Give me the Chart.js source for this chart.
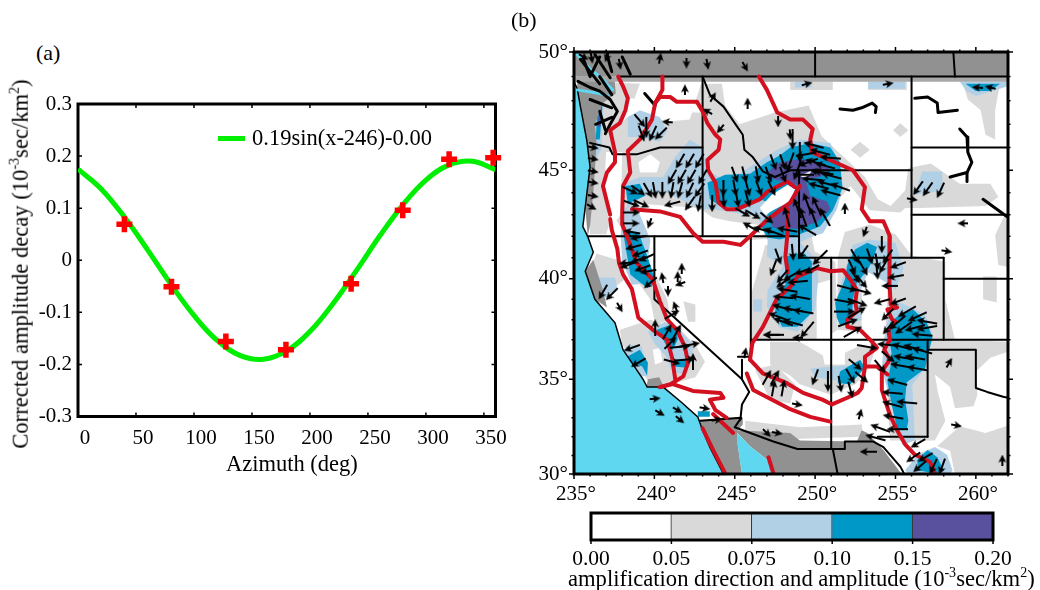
<!DOCTYPE html>
<html>
<head>
<meta charset="utf-8">
<script src="https://cdn.jsdelivr.net/npm/chart.js@4"></script>
<style>
body { margin: 0; background: #fff; width: 1040px; height: 590px; overflow: hidden; position: relative; font-family: "Liberation Serif", serif; color: #000; }
canvas { position: absolute; }
.txt { position: absolute; white-space: nowrap; line-height: 1; }
.txt sup { font-size: .62em; line-height: 0; }
</style>
</head>
<body>
<canvas id="fitChart" width="520" height="400" style="left:0;top:80px"></canvas>
<canvas id="mapChart" width="520" height="480" style="left:520px;top:30px"></canvas>
<canvas id="barChart" width="470" height="70" style="left:570px;top:505px"></canvas>

<div class="txt" style="left:36px;top:42px;font-size:22px">(a)</div>
<div class="txt" style="left:511px;top:9px;font-size:22px">(b)</div>
<div class="txt" style="left:21px;top:264px;font-size:22.6px;transform:translate(-50%,-50%) rotate(-90deg)">Corrected amplitude decay (10<sup>-3</sup>sec/km<sup>2</sup>)</div>
<div style="position:absolute;left:218px;top:136px;width:27px;height:5px;background:#00ee00"></div>
<div class="txt" style="left:252px;top:127px;font-size:22.5px">0.19sin(x-246)-0.00</div>
<div class="txt" style="left:226px;top:453px;font-size:22.5px">Azimuth (deg)</div>
<div class="txt" style="left:568px;top:568px;font-size:22.6px">amplification direction and amplitude (10<sup>-3</sup>sec/km<sup>2</sup>)</div>

<script>
// panel (a), values
const fitAzimuth = [0, 20, 40, 60, 80, 100, 120, 140, 160, 180, 200, 220, 240, 260, 280, 300, 320, 340, 360];
const fitDecay = [0.175, 0.137, 0.083, 0.02, -0.046, -0.106, -0.154, -0.183, -0.19, -0.174, -0.137, -0.083, -0.02, 0.046, 0.106, 0.154, 0.183, 0.19, 0.174];
const obsAzimuth = [40, 80.6, 127.5, 179.3, 235.5, 280, 320, 358];
const obsDecay = [0.069, -0.051, -0.156, -0.172, -0.045, 0.096, 0.194, 0.197];

// panel (b), colour bar
const colorbarTicks = ['0.00', '0.05', '0.075', '0.10', '0.15', '0.20'];
const colorbarColors = ['#ffffff', '#d9d9d9', '#b1d0e6', '#0098c7', '#5a519e'];

// panel (b), polygons are [lon, lat]
const grayPatches = [
  [[236.4,48.8],[239.1,48.7],[238.5,47.6],[239.1,47],[242.2,47.2],[242.9,48.7],[244.2,48.7],[244.4,47.8],[245.3,47],[247.5,47.5],[249.6,47.8],[250.4,46.5],[251.6,45.7],[253.1,44.7],[253.9,43.7],[254.7,43.4],[255.6,44.1],[255.8,45.1],[257.2,45.3],[259,44.4],[260.9,44.4],[261.4,43.8],[260.6,43.4],[256.5,43.3],[255.6,43.3],[255.3,43.1],[253.4,43.2],[252.2,44.3],[250.9,43.2],[249.7,42.3],[250,41.2],[249,40.4],[247.2,40.7],[247.2,41.9],[245.6,41.8],[242.8,43.3],[239.1,43.5],[238.2,42.1],[237.4,43],[237,42.1],[236,42.1],[236,45]],
  [[236.4,41.2],[237.85,40.85],[238.2,40],[236.6,39],[236,40.4]],
  [[237.85,37.5],[239.75,38],[240.65,37.75],[241.6,37.5],[242.55,36.75],[243.15,35.9],[242.55,35.1],[241,34.75],[239.75,34.7],[238.8,36],[238,36.75]],
  [[238.9,40.8],[239.75,40.65],[240.8,39],[241,38],[240.05,37.75],[239.75,39],[239.1,39.7]],
  [[241.8,38.9],[242.55,38.75],[242.55,37.9],[242.1,37.9]],
  [[246.9,41.6],[249.7,41.4],[251.25,40.8],[251.4,37.5],[250.45,37],[249.05,37],[246.05,37],[246,39.2],[246.55,40.65]],
  [[247.2,36.9],[249.05,36.9],[250.95,36],[252.9,36.75],[253.75,36.5],[253.3,35.5],[252.5,34.75],[250.95,34.2],[249.05,34.75],[248.45,35.2],[247.2,35.75]],
  [[246.25,35.5],[247.5,35.75],[248.75,34.75],[248.45,33.75],[247.2,33.95]],
  [[251.4,41],[251.85,42.2],[253.4,42.55],[255,42.1],[256,41.1],[258.1,40.8],[258.1,39],[258.7,37],[262,36.9],[262,36.4],[260.9,36.1],[260,35.4],[260.1,34.2],[259.85,33.6],[258.7,33.5],[258.4,34.6],[257.45,35.25],[257.65,34.3],[258.1,32.85],[257.45,31.8],[254.65,31.8],[254.35,36.5],[254.35,37.25],[251.4,37.5]],
  [[257.6,31.5],[259,32.55],[260.6,32.2],[262,32.6],[262,30],[258.7,30],[258.4,31.25]],
  [[261.2,42.05],[261.8,43],[262,42.5],[262,40.55],[261.4,40.65]],
  [[260.45,40.1],[261.3,40.1],[261.3,38.85],[260.45,39]],
  [[259.2,48.7],[261.5,48.7],[261.2,47.6],[261.2,46.35],[260.6,46.55],[260.3,47.6],[259.5,48.05]],
  [[254.85,46.75],[255.3,47.05],[255.8,46.75],[255.3,46.45]],
  [[252.2,45.9],[252.8,46.25],[253.4,45.9],[252.8,45.55]],
  [[248.45,48.8],[251.1,48.8],[251.1,48.45],[248.45,48.45]],
  [[253.3,48.8],[255.7,48.8],[255.7,48.45],[253.3,48.45]],
  [[245.65,32.85],[249.05,32.5],[252.9,32.65],[253,32],[245.65,31.8]]
];
const whitePatches = [
  [[239,45.35],[239.75,45.7],[240.35,45.35],[240.15,44.9],[239.1,44.9]],
  [[237,45.8],[238,45.8],[237.9,43],[237.2,42.3],[236.9,44.5]],
  [[237.9,47],[238.3,48.1],[240.35,48.05],[242.85,47.8],[243,47.5],[241.4,47.5],[240.5,47.05],[239.1,47.6],[238.3,47.3]],
  [[238.7,43.25],[241.6,42.8],[242.85,43],[244.7,42.7],[246.35,42.55],[247.2,42.2],[245.6,41.8],[242.85,42],[238.7,42]],
  [[239.9,36.5],[240.35,36.6],[240.5,35.9],[240.05,35.75]],
  [[250.1,39.75],[250.95,39.95],[250.95,37.1],[250.1,37]],
  [[250.3,36.85],[251.85,36.85],[251.85,35.75],[250.6,35.75]],
  [[252.9,40.2],[254,40.6],[254.55,39.95],[254.35,37.25],[253.7,36.75],[252.9,37.5]]
];
const bluePatches = [
  [[236.4,48.05],[236.85,48.05],[236.7,45.9],[236.35,45.5],[236.2,45.9]],
  [[238.35,47.3],[239.1,47.6],[240.35,47.3],[240.8,46.7],[240.35,46.25],[239.1,46.45],[238.35,46.45]],
  [[238.2,44.45],[239.1,44.7],[240.55,44.7],[241.3,45.6],[242.2,46.35],[243,46],[243.3,45],[244.5,44.5],[246.4,45.35],[247.65,45.9],[249.05,46.35],[250.95,46.2],[251.45,45.35],[251.75,44.3],[251.35,43.25],[250.5,42.15],[249.7,41.95],[248.45,41.5],[247,41.85],[246.4,42.9],[244.9,43.1],[243.65,43.25],[242.85,43.25],[240.8,44],[239.3,43.85],[238.3,43.25]],
  [[238.05,43.4],[239.1,43],[239.75,41.85],[239.6,40.85],[240.05,39.8],[238.6,39.7],[238,40.85],[237.9,42.05]],
  [[239.6,37.4],[240.65,37.9],[241.6,37.5],[242.35,36.75],[242.4,36],[241.9,35.25],[241.1,35.4],[240.65,36.25],[240.05,36.75]],
  [[238.05,36.5],[238.5,36.75],[239.2,36.65],[239.55,35.65],[239.55,35.2],[239.1,35.1],[238.35,36]],
  [[236.45,40.05],[237.55,40.05],[237.7,39.5],[236.8,39],[236.45,39.3]],
  [[246.15,39],[246.7,39],[246.7,38.4],[246.15,38.4]],
  [[247.05,41.85],[248.9,41.85],[250.1,40.9],[250.2,39.95],[250,38.5],[248.9,37.4],[247.8,37.6],[247,38.65],[247.05,39.45],[248,40.6],[247,41.05]],
  [[252,37.75],[251.25,38.75],[251.85,40.4],[252.35,41.6],[253.4,41.85],[255,41.7],[255.5,40.5],[255,39.45],[254.35,39.85],[253.3,40.3],[252.65,39.2],[252.9,38]],
  [[254.55,39],[255.6,38.75],[256.85,38.25],[257.3,37.25],[256.85,35.55],[256.05,34.75],[256.2,31.8],[255.45,31.55],[255.15,32.6],[254.65,33.9],[254.15,35.6],[254.35,37.5],[254.65,38.25]],
  [[249.7,35.55],[252.5,35.75],[252.9,35.4],[252.05,34.85],[250,35.1]],
  [[255.6,30.2],[256.4,31.05],[257.45,31.45],[258.2,31.05],[258.55,30.2],[258.4,30],[255.8,30]],
  [[248.75,48.8],[249.8,48.8],[249.8,48.55],[248.75,48.55]],
  [[253.3,48.8],[255.6,48.8],[255.6,48.5],[253.3,48.5]],
  [[259,48.8],[262,48.8],[262,48.6],[260,48.2],[259.4,48.4]],
  [[256.65,44.95],[257.9,44.95],[257.95,44.1],[256.2,43.9]]
];
const tealPatches = [
  [[243.3,44.45],[244.4,44.8],[245.95,44.85],[247,45.35],[247.8,45.65],[248.45,46],[249.7,46.2],[250.95,46],[251.55,45.35],[251.7,44.2],[251.1,43.2],[250.3,42.45],[249.05,42.1],[247.8,41.85],[247,41.95],[246.6,42.55],[247.5,43.45],[246.55,43.7],[245.35,43.3],[244.1,43.4],[243.45,43.7]],
  [[238.2,44.3],[239.1,44.4],[239.4,43.85],[238.35,43.5]],
  [[238.05,42.2],[239,42.2],[239.6,41],[240.1,39.8],[239.55,39.55],[238.5,40.2]],
  [[240.15,37.5],[241,37.75],[241.4,37.65],[241.45,37],[241.15,36.5],[240.8,36.6],[240.55,37]],
  [[241.15,36],[242.1,36],[241.9,35.6],[241.15,35.65]],
  [[238.3,36.15],[239.1,36.5],[239.6,35.85],[239.55,35.2],[239.25,35.65],[238.6,35.85]],
  [[248.15,41.05],[249.25,41.25],[249.8,40.8],[249.8,39.7],[249.8,38.35],[248.9,37.65],[247.95,37.65],[247.5,38.35],[247.65,39],[248.15,39.7]],
  [[251.35,38.1],[251.25,38.85],[251.85,39.95],[252,40.65],[252.5,41.4],[253.25,41.7],[253.85,41.5],[253.6,40.9],[253.25,40.4],[252.6,39.8],[252.35,39],[252.3,37.85],[251.55,37.75]],
  [[255.1,38.15],[256.1,38.5],[256.95,37.85],[257.3,37.1],[257,36.15],[256.85,35.55],[255.7,34.85],[255.6,33.95],[255.8,32.85],[255.7,32.4],[255.1,32.4],[254.8,33.55],[254.5,34.85],[254.8,36.15],[254.65,36.85],[254.65,37.85]],
  [[251.55,35.4],[252.8,36],[253.1,35.6],[252.2,34.75],[251.4,34.8]],
  [[256.35,30.75],[257,31.3],[257.6,30.9],[258,30.2],[257.6,30],[256.4,30.2]],
  [[242.7,33.35],[243.45,33.35],[243.45,33.05],[242.7,33.05]],
  [[259.35,48.7],[261.5,48.7],[260.9,48.4],[260,48.4]],
  [[236.5,48.05],[236.8,48.05],[236.6,46.35],[236.35,46.35]]
];
const purplePatches = [
  [[247,44.9],[247.8,45.35],[249.05,45.5],[250.3,45.35],[250.95,45.1],[250.3,44.7],[249.4,44.6],[249.7,43.85],[250.75,43.6],[250.95,43.25],[250.1,42.65],[248.9,42.35],[247.4,42.4],[247.1,42.85],[247.8,43.35],[248.6,43.9],[248.9,44.35],[247.4,44.6]],
  [[236.55,47.8],[236.75,47.8],[236.65,46.9],[236.5,46.9]]
];
const centerWhite = [
  [[248.3,44.35],[248.75,44.15],[248.45,43.6],[247.5,43.25],[246.9,43],[246.55,43.3],[247.3,43.9]],
  [[249.05,44.75],[249.8,45],[249.5,44.65]]
];
const landGray = [
  [[235,50],[262,50],[262,49],[235,49]],
  [[235.2,49],[237.5,49],[237.6,48.3],[236.8,47.9],[236.3,47],[236.4,46.2],[236.3,45],[236.2,44],[236,42.5],[235.85,42],[235.7,43.35],[236,45.15],[235.8,46.3],[235.4,47.75],[235.2,48.5]],
  [[236.2,40.9],[236.8,39.45],[237.05,38.6],[236.3,39],[235.7,40.35]],
  [[239.5,34.6],[240.6,34.6],[240.3,35.1],[239.6,35]],
  [[242.85,32.85],[245.5,33],[245.5,32.65],[245.15,32.3],[245.2,31.5],[245.45,30],[244.3,30],[243.45,31.45],[243,32.35]],
  [[245,32.35],[247.3,32.25],[248.45,32.2],[249.05,31.8],[252.6,31.75],[252.9,32.35],[253.25,32.2],[254.25,31.3],[255.3,30.1],[255.55,30],[247.4,30],[247.2,30.65],[245.95,31.5]]
];
const borderStripe = [[235,49],[262,49],[262,48.79],[235,48.79]];
const oceanCoast = [[235,48.8],[235.2,48.5],[235.4,47.75],[235.8,46.3],[236,45.15],[235.7,43.35],[235.55,42.45],[235.85,42],[236.2,41.25],[235.7,40.35],[236.3,39],[237.55,37.85],[238.05,36.5],[239.3,35],[239.55,34.6],[240.55,34.6],[241.7,33.8],[242.7,33.05],[243,32.35],[243.45,31.45],[244.3,30],[235,30]];
const gulfCoast = [[245.45,30],[245.2,31.5],[245.15,32.2],[245.95,31.5],[247.2,30.65],[247.4,30]];
const sound = [[[235.2,49.9],[236,49.3],[236.6,49],[237.4,48.45]],[[235.2,48.45],[236.6,48.3],[237.1,48.2]]];

const borders = [
  [[237.9,49],[262,49]],[[250,50],[250,49]],[[258.6,50],[258.7,49]],
  [[256,49],[256,41]],[[256,46],[262,46]],[[256,43],[262,43]],
  [[249,45],[256,45]],[[249,45],[249,41]],[[249,41],[258,41]],
  [[251,41],[251,31.35]],[[258,41],[258,37]],[[258,40],[262,40]],
  [[246,37],[262,37]],[[246,42],[246,36.15],[245.2,36.15]],[[235.85,42],[249,42]],
  [[243,49],[243,42]],[[240,42],[240,39],[245.45,35],[245.45,36]],
  [[245.45,35],[245.9,34.35],[245.45,33.7],[245.35,32.9]],
  [[242.85,32.85],[245.4,33],[245,32.5],[247.4,31.75],[248.9,31.35],[251.85,31.35],[251.85,31.75],[253.6,31.75],[254.25,31.45],[255.3,30.4],[255.55,30]],
  [[251.1,31.35],[251.4,30]],[[253.9,32],[257,32]],[[257,37],[257,32]],
  [[257,36.5],[260,36.5],[260,34.55],[260.7,34.35],[261.7,34.1],[262,34.05]],
  [[236,46.2],[237.2,46],[237.4,45.7],[238.9,45.7],[240.35,46],[243,46]],
  [[243,49],[243.45,48.25],[244.3,47.75],[245.15,46.9],[245.5,46.55],[245.6,45.9],[246.1,45.6],[246.75,44.95],[247.5,44.7],[248.45,45],[249,45]]
];
const rivers = [
  [[251.55,47.65],[252.35,47.6],[252.9,47.7],[253.55,47.9],[253.8,47.75],[253.75,47.5]],
  [[256.2,48.1],[257,48.15],[257.6,47.9],[257.65,47.5],[258.85,47.6]],
  [[259,46.8],[259.45,46.45],[259.5,45.8],[259.75,45.35],[259.45,44.9],[259.45,44.5]],
  [[258.4,44.7],[259.45,44.9]],
  [[260.45,43.7],[261.95,42.9]],
  [[239.4,48.3],[240.05,47.8]],
  [[235.25,48.8],[236,48.55],[236.6,48.4],[237.25,48.05],[237.7,47.55],[237.25,47],[236.95,46.6]],
  [[236.6,49],[237.35,48.25]],
  [[235.6,49.7],[236,49],[236.6,49.8]],
  [[236,48.05],[237.35,47.7]],
  [[236.35,47],[237.35,47.3]],
  [[236.6,47.55],[236.95,46.75]],
  [[235.4,49.7],[236.6,48.7]],
  [[236.3,49.9],[237.25,48.95]],
  [[237.05,49.9],[237.35,49.2]],
  [[238,49.8],[238.5,49.1]]
];
const faults = [
  [[237.75,49],[238.05,48.6],[238.35,48.1],[238.2,47.6],[237.85,47.05],[237.25,46.75],[237.55,45.8],[237.55,45.35],[237.05,44.9],[236.8,44.3],[237.25,43]],
  [[237.25,42.8],[237.35,42.3],[237.7,41.4],[237.8,40.75],[238.05,40.2],[238.6,39.5],[239,38.1],[239.9,37.5],[240.8,37],[241.1,36.1],[241.3,35]],
  [[240.5,49],[240.5,48.45],[240.05,47.9],[239.85,47.2],[239.55,46.85],[239.1,46.35],[238.35,45.85],[238.5,44.9],[238.05,44.3],[238,43.1],[238,42.55],[238.3,42],[238.6,41.4],[238.9,40.75],[239.9,39.95],[240.35,38.9],[240.8,38],[241.4,37.5],[241.9,36.65],[242.1,35.85],[241.8,35.15],[241,34.75],[240.35,34.6]],
  [[240.05,47.9],[240.35,48.15],[241,48.15],[241.4,47.95],[242.65,47.95],[243,47.55],[243.3,47.05],[243.8,46.55],[244.1,46.35],[244,45.9],[243.3,45.45],[243.35,45],[243.8,44.45],[244,43.55],[244.5,43.25],[245.15,43.25],[246.55,43.7],[247.05,44.05],[248.25,44.5],[248.75,44.25]],
  [[238.6,43.25],[240.35,43.15],[241.6,42.9],[242.4,42.15],[243,41.75],[244.3,41.75],[245.35,41.6],[245.95,42],[247,42.75],[248.45,43.55],[249.05,44.3]],
  [[246.5,49],[247,48.45],[247.65,47.5],[248.45,47.2],[249.25,47.2],[249.85,46.8],[249.7,46.35],[249.8,45.8],[251.1,45.4],[252.35,45],[253.1,44.25],[252.9,43.25],[253.4,42.7],[254.25,42.7],[254.65,42],[254.65,40.6],[254.6,39.8],[254.7,38.75],[255.1,38.6],[254.5,38.5],[254.8,38],[255,37.9],[254.55,37.5],[254.65,37],[254.3,36.5],[254.65,36],[254.15,35.4],[254.15,34.45],[254.65,33.15],[255.1,32.35],[255.6,31.6],[256.2,31.05],[257.15,30.65],[257.45,30.05]],
  [[248.3,43.25],[248.3,42.3],[248.15,41.05],[248.3,40.3]],
  [[245.95,36],[246.1,36.85],[246.75,37.65],[247.6,39],[248.45,39.6],[248.9,40.1],[250.1,40.5],[250.95,40.35],[251.75,40.4],[252.2,39.95],[252.6,39.45],[252.5,38.85],[252.6,38.4],[252,38],[252,37.65],[252.8,37.5],[253.55,36.9],[253.85,36.6],[253.1,36.15],[253.1,35.65],[253.85,35.65],[254.5,35.25]],
  [[253.1,35.65],[252.9,34.55],[252.65,34.3],[252,34.05],[251.05,33.7],[250.45,33.95],[249.25,34.3],[248.25,34.8],[246.75,35.3],[245.95,36]],
  [[245.75,35.3],[246.15,34.45],[247.65,33.8],[248.45,33.45],[249.7,33.05],[250.95,32.8]],
  [[240.35,34.6],[241.15,34.75],[242.4,34.4],[244.1,34.3],[244.3,34.05],[243.45,33.95],[243.8,33.4],[244.5,33]],
  [[243.65,33.2],[244.9,32.2]],
  [[243,32.45],[243.65,31.3],[244.4,30.05]],
  [[247.1,30.9],[247.4,30.05]]
];

// arrows are [lon, lat, azimuth], one list per amplitude class
const arrowsWeak = [
  [240.8,47.1,275],[239.7,42.6,200],[235.6,49.8,120],[236.1,49.75,170],[237.05,49.8,200],[237.85,49.5,170],[240.35,49.75,10],[242,49.55,180],[243.3,49.5,170],[245.65,49.4,150],
  [241.9,48.45,0],[243.65,48.15,30],[243.3,47.55,300],[244.1,46.8,220],[247.7,47.1,180],[248.45,46.55,175],[245.8,47.9,0],[236.2,44.45,100],[236.2,43.85,100],[236.1,43.35,120],
  [256.05,43.7,100],[249.5,48.7,75],[254.55,48.7,80],[260.1,48.55,275],[260.9,48.55,285],[240.05,34,85],[243.15,33.5,100],[243.9,32.9,80],[247.65,32.2,100],[247,32.2,135],[245.65,36.35,10],[248.9,37.1,270],
  [241.7,40.5,0],[240.5,40.05,350],[241.45,40.1,0],[241.6,39.75,250],[240.85,39.4,180],[241.3,38.65,340],[237.85,38.6,150],[240.35,33.25,120],[241.45,33.4,120],[241.6,32.9,130],
  [251.85,43.3,0],[253.1,42.2,200],[258.2,41.3,100],[259.2,42.6,270],[258.35,35.85,30],[252.8,33.2,15],[248.9,33.7,100],[258.8,32.6,100],[261.65,30.75,0],
  [236.2,46,100],[236.2,45.5,100],[236.2,44.95,100]
];
const arrowsMid = [
  [239.1,47.15,140],[239.9,46.6,205],[240.4,46.6,225],[239.2,46.6,160],
  [241.6,45.4,210],[242.2,45.4,210],[242.8,45.4,210],[241.1,44.7,210],[241.7,44.7,210],[242.3,44.7,210],[243,44.7,210],
  [238.5,44.1,115],[239,44.1,125],[239.6,44.1,150],[240,44.1,170],[240.5,44.1,180],[241.1,44.1,190],[241.6,44.1,195],[242.2,44.1,205],[242.8,44.1,215],
  [238.6,43.5,110],[239.2,43.5,115],[241.1,43.5,255],[242.2,43.5,215],[242.8,43.5,190],[243.6,43.5,180],
  [238.6,43.1,90],[238.55,42.6,90],[238.6,42.2,280],[239,41.95,260],[238.7,41.5,255],[239.1,41.2,250],[239,40.9,250],[238.3,40.75,265],[239.5,41,245],
  [245,44.8,160],[245.6,44.8,165],[246.4,44.8,170],[247.1,44.8,160],[248,44.8,160],
  [244.3,44.2,180],[245,44.2,170],[245.8,44.2,165],[246.5,44.2,160],[247.3,44.2,155],[244.3,43.7,175],[245.15,43.7,170],[245.8,43.7,165],[247.4,45.35,160],[248,45.35,160],
  [246.15,43,120],[245.5,43.1,120],[247,42.85,130],[245.95,42.45,300],
  [247.7,41.05,160],[247.4,40.5,200],[248.6,41.25,175],[249.25,41.25,215],[247.95,40.1,220],[248.45,40.1,240],[249.2,40.35,250],[249.8,40.45,240],[248,39.8,235],
  [252.5,41.05,150],[253.4,41.05,160],[252.3,40.55,155],[253,40.5,150],[252.5,40.1,145],[252.9,39.85,140],
  [254.15,41.6,180],[254.5,41.05,215],[253.85,40.8,170],[253.85,40.35,175],[254.25,40.6,210],[255.15,40.65,250],[255,40.1,260],[254.65,39.65,270],[254.15,38.9,255],[255.15,38.9,250],[254.5,38.25,225],[254.55,37.6,220],
  [254.55,36.15,130],[254.05,35.65,140],[252.5,35.75,130],[252.9,35.1,130],[250,35.1,200],[251.55,34.75,170],[252.2,34.45,165],[252.2,35.15,150],
  [256.4,31.65,240],[256.1,30.9,235],[256.85,30.9,240],[256.5,30.4,230],[257.35,30.4,205],[257.9,30.4,200],
  [238.35,40.65,250],[239.25,40.5,250],[239.6,40.35,260],[239.75,39.8,230],[236.8,39.35,210],[237.35,39.25,225],
  [241.1,38.25,60],[240.05,37.6,0],[240.8,37.4,30],[241.4,37.4,30],[241,36.85,45],[241.1,35.9,105],[238.6,36.6,250],[239,35.85,240],[242.4,35.9,0],
  [247,35.1,30],[247.5,35.1,30],[247.4,34.55,10],[248,34.55,10],[247.3,37.25,270],[257,44.15,215],[256.4,44.2,215],[257.8,44.1,205],[253.3,31.2,270]
];
const arrowsStrong = [
  [239.5,46.85,180],[248.6,46.35,180],[249.05,45.8,180],[249.9,46.1,285],[250.3,45.8,285],[250,45.35,285],[250.3,44.9,285],[250.75,44.4,285],[250.95,44,285],[249.55,45.35,250],[248.45,45.35,200],[250.95,45.55,275],[250.5,44.9,280],[251.55,44.25,290],
  [249.3,44.8,270],[249.8,44.6,275],[248.9,45,200],[249.4,45.7,260],[250.6,45.2,285],[251,44.75,285],[250.2,44.3,285],
  [249.5,43.55,340],[250.1,43.4,335],[250.6,42.9,330],[249.9,42.9,340],[249.25,42.9,340],[248.9,43.3,340],[248.25,42.9,345],[249.5,42.3,300],[248.25,42.3,280],[247.4,42.2,290],[246.75,42.3,285],
  [250.3,41,225],[248.9,39.85,265],[248.25,39.45,280],[249.05,39.1,280],[248,39.1,275],[247.95,38.6,285],[248.6,38.5,280],[249.25,38.4,280],[247.7,38.15,290],[248,37.9,290],[248.6,37.85,285],[247.4,37.25,270],[249.5,37.5,220],
  [252,39.55,105],[252.9,39.4,105],[251.85,38.9,100],[252.65,38.85,110],[251.85,38.4,90],[252.6,38.35,60],[252.05,37.85,70],[252.35,37.4,60],
  [255.7,38.4,240],[256.35,38.15,245],[255.1,37.85,230],[255.5,37.6,235],[256.95,37.9,280],[256.2,37.6,255],[256.95,37.6,260],[256.65,37.25,275],
  [255.4,36.65,285],[256.1,36.6,285],[256.65,36.45,285],[255.5,36.1,280],[256.2,36.1,280],[255.3,35.7,280],[256.35,35.55,280],[255.1,34.85,285],[254.8,34.3,275],[255.7,33.8,275],[254.8,33.7,285],[254.85,33.05,280],[255.1,32.4,270],[254.05,32.45,290],[253.75,31.95,285],
  [253.25,36.65,100],[254.5,36.75,275],[250.8,34.9,180],[241.6,36.65,85],[242.2,36.75,80],[241.9,36,85]
];

// y axis of the map is Mercator
class MercatorScale extends Chart.LinearScale {
  static id = 'mercator';
  static defaults = Chart.LinearScale.defaults;
  merc(v) { return Math.log(Math.tan(Math.PI / 4 + v * Math.PI / 360)); }
  getPixelForValue(v) {
    const a = this.merc(this.min), b = this.merc(this.max);
    return this.getPixelForDecimal((this.merc(v) - a) / (b - a));
  }
  getValueForPixel(p) {
    const a = this.merc(this.min), b = this.merc(this.max);
    const m = a + this.getDecimalForPixel(p) * (b - a);
    return (2 * Math.atan(Math.exp(m)) - Math.PI / 2) * 180 / Math.PI;
  }
}
Chart.register(MercatorScale);

const framePlugin = {
  id: 'frame',
  beforeDatasetsDraw(chart, args, o) { if (o.under) drawFrame(chart, o); },
  afterDatasetsDraw(chart, args, o) { if (!o.under) drawFrame(chart, o); }
};

function drawFrame(chart, o) {
  const ctx = chart.ctx, a = chart.chartArea;
  const dir = o.inward ? 1 : -1;
  ctx.save();
  ctx.strokeStyle = '#000';
  ctx.lineWidth = 1.5;
  chart.scales.x.ticks.forEach(function (t) {
    const major = Math.abs(t.value / o.xMajor - Math.round(t.value / o.xMajor)) < 1e-6;
    const len = major ? o.major : o.minor;
    const px = chart.scales.x.getPixelForValue(t.value);
    ctx.beginPath();
    ctx.moveTo(px, a.bottom); ctx.lineTo(px, a.bottom - dir * len);
    if (!o.bottomOnly) { ctx.moveTo(px, a.top); ctx.lineTo(px, a.top + dir * len); }
    ctx.stroke();
  });
  if (!o.bottomOnly) chart.scales.y.ticks.forEach(function (t) {
    const major = Math.abs(t.value / o.yMajor - Math.round(t.value / o.yMajor)) < 1e-6;
    const len = major ? o.major : o.minor;
    const py = chart.scales.y.getPixelForValue(t.value);
    ctx.beginPath();
    ctx.moveTo(a.left, py); ctx.lineTo(a.left + dir * len, py);
    ctx.moveTo(a.right, py); ctx.lineTo(a.right - dir * len, py);
    ctx.stroke();
  });
  ctx.lineWidth = o.width;
  ctx.strokeRect(a.left, a.top, a.right - a.left, a.bottom - a.top);
  ctx.restore();
}

function fixX(h) { return function (s) { s.height = h; s.paddingLeft = 0; s.paddingRight = 0; }; }
function fixY(w) { return function (s) { s.width = w; s.paddingTop = 0; s.paddingBottom = 0; }; }

// panel (a)
new Chart(document.getElementById('fitChart'), {
  type: 'scatter',
  data: {
    datasets: [{
      data: obsAzimuth.map(function (x, i) { return { x: x, y: obsDecay[i] }; }),
      pointStyle: 'cross', pointRadius: 8, pointBorderWidth: 5.5,
      pointBorderColor: '#ff0000', pointBackgroundColor: '#ff0000', clip: false
    }, {
      data: fitAzimuth.map(function (x, i) { return { x: x, y: fitDecay[i] }; }),
      showLine: true, borderColor: '#00ee00', borderWidth: 5, pointRadius: 0, tension: 0.4
    }]
  },
  options: {
    responsive: false, animation: false,
    layout: { padding: { left: 0, right: 24.5, top: 24, bottom: 0 } },
    plugins: {
      legend: { display: false }, tooltip: { enabled: false },
      frame: { under: true, inward: true, width: 3, major: 4, minor: 0, xMajor: 50, yMajor: 0.1 }
    },
    scales: {
      x: {
        type: 'linear', min: 0, max: 360, afterFit: fixX(63.5),
        grid: { display: false, drawTicks: false }, border: { display: false },
        ticks: { stepSize: 50, includeBounds: false, color: '#000', padding: 9, labelOffset: 7, maxRotation: 0, font: { family: 'Liberation Serif', size: 21 } }
      },
      y: {
        min: -0.3, max: 0.3, afterFit: fixY(78),
        grid: { display: false, drawTicks: false }, border: { display: false },
        ticks: {
          stepSize: 0.1, color: '#000', padding: 6, font: { family: 'Liberation Serif', size: 21 },
          callback: function (v) { return Math.abs(v) < 1e-9 ? '0' : Number(v).toFixed(1); }
        }
      }
    }
  },
  plugins: [framePlugin]
});

// arrow marks, drawn pointing north and rotated by azimuth
function arrowMark(len) {
  const c = document.createElement('canvas');
  c.width = 10; c.height = len;
  const g = c.getContext('2d');
  g.fillStyle = '#000';
  g.fillRect(4, 5, 2, len - 5);
  g.beginPath();
  g.moveTo(5, 0); g.lineTo(9, 8); g.lineTo(5, 6); g.lineTo(1, 8);
  g.closePath();
  g.fill();
  return c;
}

function xy(p) { return { x: p[0], y: p[1] }; }
function area(points, color) {
  return { data: points.map(xy), showLine: true, fill: 'shape', backgroundColor: color, borderWidth: 0, pointRadius: 0 };
}
function line(points, color, width) {
  return { data: points.map(xy), showLine: true, fill: false, borderColor: color, borderWidth: width, pointRadius: 0, borderJoinStyle: 'round', borderCapStyle: 'round' };
}
function arrowSet(list, len) {
  return {
    data: list.map(xy), pointStyle: arrowMark(len), pointRadius: 4,
    pointRotation: function (ctx) { return list[ctx.dataIndex][2]; }
  };
}

const mapSets = [];
[[grayPatches, '#d9d9d9'], [whitePatches, '#ffffff'], [bluePatches, '#b1d0e6'], [tealPatches, '#0098c7'], [purplePatches, '#5a519e'], [centerWhite, '#ffffff'], [landGray, '#919191']].forEach(function (layer) {
  layer[0].forEach(function (p) { mapSets.push(area(p, layer[1])); });
});
mapSets.push(area(borderStripe, '#a8a8a8'));
mapSets.push(Object.assign(area(oceanCoast, '#5fd7f0'), { borderWidth: 1.5, borderColor: '#000' }));
mapSets.push(area(gulfCoast, '#5fd7f0'));
sound.forEach(function (p) { mapSets.push(line(p, '#5fd7f0', 3)); });
borders.forEach(function (p) { mapSets.push(line(p, '#000', 2)); });
rivers.forEach(function (p) { mapSets.push(line(p, '#000', 3)); });
faults.forEach(function (p) { mapSets.push(line(p, '#d3101f', 4)); });
mapSets.push(arrowSet(arrowsWeak, 11));
mapSets.push(arrowSet(arrowsMid, 17));
mapSets.push(arrowSet(arrowsStrong, 21));
mapSets.forEach(function (d, i) { d.order = -i; });

// panel (b)
new Chart(document.getElementById('mapChart'), {
  type: 'scatter',
  data: { datasets: mapSets },
  options: {
    responsive: false, animation: false,
    layout: { padding: { left: 0, right: 32, top: 22, bottom: 0 } },
    plugins: {
      legend: { display: false }, tooltip: { enabled: false },
      frame: { under: false, inward: false, width: 3, major: 5, minor: 2.5, xMajor: 5, yMajor: 5 }
    },
    scales: {
      x: {
        type: 'linear', min: 235, max: 262, afterFit: fixX(36),
        grid: { display: false, drawTicks: false }, border: { display: false },
        ticks: {
          stepSize: 1, autoSkip: false, maxRotation: 0, color: '#000', padding: 8, labelOffset: 2,
          font: { family: 'Liberation Serif', size: 21 },
          callback: function (v) { return v % 5 === 0 ? v + '°' : ''; }
        }
      },
      y: {
        type: 'mercator', min: 30, max: 50, afterFit: fixY(54),
        grid: { display: false, drawTicks: false }, border: { display: false },
        ticks: {
          stepSize: 1, autoSkip: false, color: '#000', padding: 6,
          font: { family: 'Liberation Serif', size: 21 },
          callback: function (v) { return v % 5 === 0 ? v + '°' : ''; }
        }
      }
    }
  },
  plugins: [framePlugin]
});

// colour bar
new Chart(document.getElementById('barChart'), {
  type: 'bar',
  data: {
    labels: [''],
    datasets: colorbarColors.map(function (c) {
      return { data: [1], backgroundColor: c, borderColor: '#222', borderWidth: 1, barPercentage: 1, categoryPercentage: 1 };
    })
  },
  options: {
    indexAxis: 'y', responsive: false, animation: false,
    layout: { padding: { left: 21, right: 47, top: 8, bottom: 0 } },
    plugins: {
      legend: { display: false }, tooltip: { enabled: false },
      frame: { under: false, inward: false, width: 3, major: 4, minor: 4, xMajor: 1, yMajor: 1, bottomOnly: true }
    },
    scales: {
      x: {
        stacked: true, min: 0, max: 5, afterFit: fixX(35),
        grid: { display: false, drawTicks: false }, border: { display: false },
        ticks: {
          stepSize: 1, color: '#000', padding: 6, maxRotation: 0, font: { family: 'Liberation Serif', size: 21.5 },
          callback: function (v) { return colorbarTicks[v]; }
        }
      },
      y: { stacked: true, display: false }
    }
  },
  plugins: [framePlugin]
});
</script>
</body>
</html>
